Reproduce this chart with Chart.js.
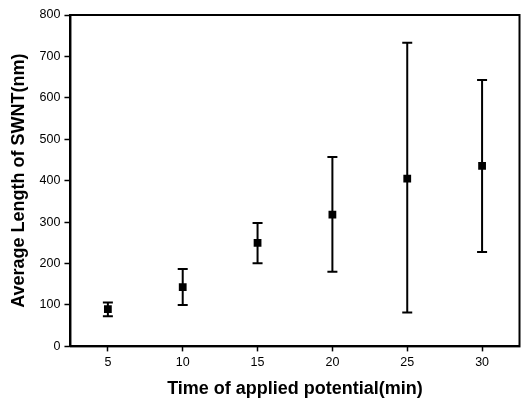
<!DOCTYPE html>
<html>
<head>
<meta charset="utf-8">
<script src="https://cdn.jsdelivr.net/npm/chart.js@4"></script>
<style>
  html, body { margin: 0; padding: 0; background: #fff; }
  #wrap { width: 525px; height: 400px; }
</style>
</head>
<body>
<div id="wrap"><canvas id="lengthChart"></canvas></div>
<script>
// Data
const times = [5, 10, 15, 20, 25, 30];
const avgLength = [90, 143, 250, 318, 405, 436];
const errUpper = [106, 187, 298, 457, 733, 643];
const errLower = [73, 100, 201, 180, 82, 228];
const xTicks = [5, 10, 15, 20, 25, 30];
const yTicks = [0, 100, 200, 300, 400, 500, 600, 700, 800];

// Error bars drawn from the scales
const errorBars = {
    id: 'errorBars',
    afterDatasetsDraw(chart) {
        const ctx = chart.ctx;
        const x = chart.scales.x;
        const y = chart.scales.y;
        ctx.save();
        ctx.strokeStyle = '#000';
        ctx.lineWidth = 2;
        times.forEach(function(t, i) {
            const px = x.getPixelForValue(t);
            const top = y.getPixelForValue(errUpper[i]);
            const bot = y.getPixelForValue(errLower[i]);
            ctx.beginPath();
            ctx.moveTo(px, top);
            ctx.lineTo(px, bot);
            ctx.moveTo(px - 5, top);
            ctx.lineTo(px + 5, top);
            ctx.moveTo(px - 5, bot);
            ctx.lineTo(px + 5, bot);
            ctx.stroke();
        });
        ctx.restore();
    }
};

// Box frame around the plot
const frame = {
    id: 'frame',
    afterDraw(chart) {
        const a = chart.chartArea;
        const ctx = chart.ctx;
        ctx.save();
        ctx.strokeStyle = '#000';
        ctx.lineWidth = 2;
        ctx.strokeRect(a.left, a.top, a.right - a.left, a.bottom - a.top);
        ctx.restore();
    }
};

const fontFamily = 'Liberation Sans, Arial, sans-serif';

new Chart(document.getElementById('lengthChart'), {
    type: 'scatter',
    data: {
        datasets: [{
            data: times.map(function(t, i) { return { x: t, y: avgLength[i] }; }),
            pointStyle: 'rect',
            pointRadius: 5.5,
            backgroundColor: '#000',
            borderColor: '#000',
            borderWidth: 0
        }]
    },
    options: {
        responsive: true,
        maintainAspectRatio: false,
        animation: false,
        layout: { padding: { top: 15, right: 5, left: 8, bottom: 0 } },
        plugins: {
            legend: { display: false },
            tooltip: { enabled: false }
        },
        scales: {
            x: {
                type: 'linear',
                min: 2.5,
                max: 32.5,
                afterBuildTicks: function(axis) {
                    axis.ticks = xTicks.map(function(v) { return { value: v }; });
                },
                grid: {
                    drawOnChartArea: false,
                    tickLength: 5,
                    tickColor: '#000',
                    tickWidth: 1.5
                },
                border: { color: '#000', width: 2 },
                ticks: {
                    color: '#000',
                    padding: 4,
                    font: { family: fontFamily, size: 12.5 }
                },
                title: {
                    display: true,
                    text: 'Time of applied potential(min)',
                    color: '#000',
                    padding: { top: 4, bottom: 0 },
                    font: { family: fontFamily, size: 18, weight: 'bold' }
                }
            },
            y: {
                min: 0,
                max: 800,
                afterBuildTicks: function(axis) {
                    axis.ticks = yTicks.map(function(v) { return { value: v }; });
                },
                grid: {
                    drawOnChartArea: false,
                    tickLength: 6,
                    tickColor: '#000',
                    tickWidth: 1.5
                },
                border: { color: '#000', width: 2 },
                ticks: {
                    color: '#000',
                    padding: 4,
                    font: { family: fontFamily, size: 12.5 }
                },
                title: {
                    display: true,
                    text: 'Average Length of SWNT(nm)',
                    color: '#000',
                    padding: { top: 0, bottom: 6 },
                    font: { family: fontFamily, size: 18, weight: 'bold' }
                }
            }
        }
    },
    plugins: [errorBars, frame]
});
</script>
</body>
</html>
